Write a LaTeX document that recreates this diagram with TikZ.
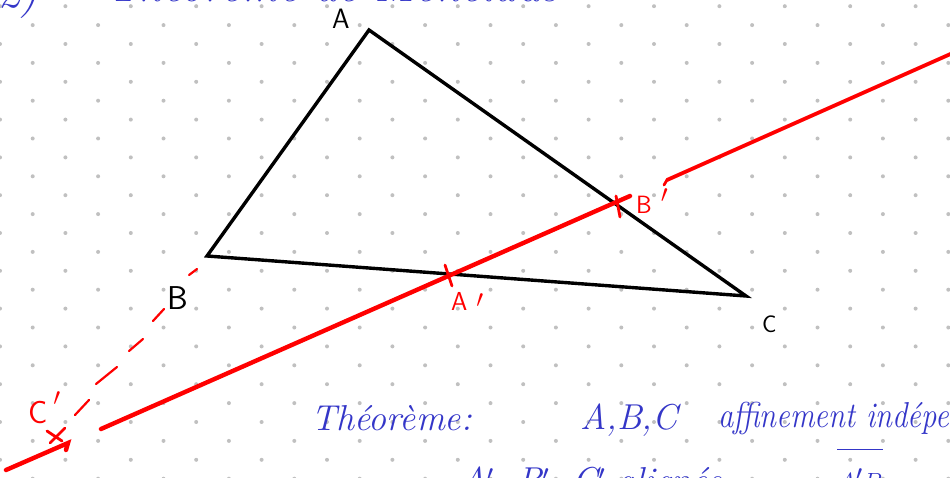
\documentclass[tikz,border=0pt]{standalone}
\usepackage{fontspec}
\definecolor{dotgray}{RGB}{192,192,192}
\definecolor{inkblue}{RGB}{52,54,200}
\definecolor{inkred}{RGB}{255,0,0}
\tikzset{
  gdot/.style={fill=dotgray, draw=none},
  tri/.style={draw=black, line width=3.4pt},
  redln/.style={draw=inkred, line width=4.4pt, line cap=round},
  reddash/.style={draw=inkred, line width=2.2pt, line cap=round},
  redtick/.style={draw=inkred, line width=2.8pt, line cap=round},
  blklbl/.style={inner sep=0pt, text=black, anchor=base west},
  redlbl/.style={inner sep=0pt, text=inkred, anchor=base west},
  hand/.style={inner sep=0pt, text=inkblue, anchor=base west},
}
\begin{document}
\begin{tikzpicture}[x=1pt,y=-1pt]
\useasboundingbox (0,0) rectangle (950,478);
\clip (0,0) rectangle (950,478);
% dot grid
\foreach \k in {0,...,25} {
  \pgfmathsetmacro\yy{6.2+18.9*\k}
  \pgfmathsetmacro\off{mod(\k,2)*32.7}
  \foreach \m in {0,...,14} {
    \fill[gdot] ({\off+65.4*\m},\yy) circle (2pt);
  }
}
% top heading (cut off)
\node[hand, font=\fontsize{44}{48}\selectfont\itshape] (h2) at (-2,8) {2)};
\node[hand, font=\fontsize{46}{50}\selectfont\itshape] (htitle) at (107,2) {Théorème de Ménélaüs};
% triangle
\coordinate (A) at (369,30);
\coordinate (B) at (207,256);
\coordinate (C) at (746,296);
\draw[tri] (A) -- (B) -- (C) -- cycle;
\node[blklbl, font=\fontsize{28}{30}\sffamily] (lA) at (332,29) {A};
\node[blklbl, font=\fontsize{33}{36}\sffamily] (lB) at (167,309) {B};
\node[blklbl, font=\fontsize{24}{26}\sffamily] (lC) at (762,332) {C};
% red line (Menelaus transversal)
\coordinate (R0) at (6,470);
\coordinate (R1) at (68,443);
\coordinate (R2) at (101,429);
\coordinate (R3) at (630,196);
\coordinate (R4) at (667,180);
\coordinate (R5) at (955,52);
\draw[redln] (R0) -- (R1) -- ++(-2,7);
\draw[redln] (R2) -- (R3);
\draw[redln, line width=3.8pt] (R4) -- (R5);
\draw[redtick] (R4) -- ++(-3,5);
% points A', B', C'
\coordinate (Ap) at (448,275);
\coordinate (Bp) at (618,203);
\coordinate (Cp) at (56,436);
\draw[redtick] (445,265) -- (452,286);
\draw[redtick] (616,196) -- (620,217);
\draw[redtick] (47,431) -- (62,441);
\draw[redtick] (65,428) -- (50,443);
\node[redlbl, font=\fontsize{26}{28}\sffamily] (lAp) at (451,310) {A\kern9pt\raisebox{3pt}{$\prime$}};
\node[redlbl, font=\fontsize{25}{27}\sffamily] (lBp) at (636,214) {B\kern9pt\raisebox{11pt}{$\prime$}};
\node[redlbl, font=\fontsize{32}{34}\sffamily] (lCp) at (28,423) {C\kern6pt\raisebox{18pt}{$\prime$}};
% dashed extension of (AB) towards C'
\draw[reddash] (197,269) -- (189,275);
\draw[reddash] (164,309) -- (153,321);
\draw[reddash] (143,339) -- (129,351);
\draw[reddash] (117,367) -- (96,384);
\draw[reddash] (89,400) -- (75,415);
% theorem text
\node[hand, font=\fontsize{36}{40}\selectfont\itshape] (thm) at (311,430) {Théorème:};
\node[hand, font=\fontsize{36}{40}\selectfont\itshape] (abc) at (580,429) {A,B,C};
\node[hand, font=\fontsize{36}{40}\selectfont\itshape] (aff) at (718,427) {\scalebox{0.85}[1]{affinement indépendants}};
\node[hand, font=\fontsize{36}{40}\selectfont\itshape] (l2) at (460,492) {A$'$, B$'$, C$'$ alignés};
\node[hand, font=\fontsize{36}{40}\selectfont\itshape] (frac) at (837,490) {$\overline{\rule{0pt}{1.1em}A'B}$};
\end{tikzpicture}
\end{document}
